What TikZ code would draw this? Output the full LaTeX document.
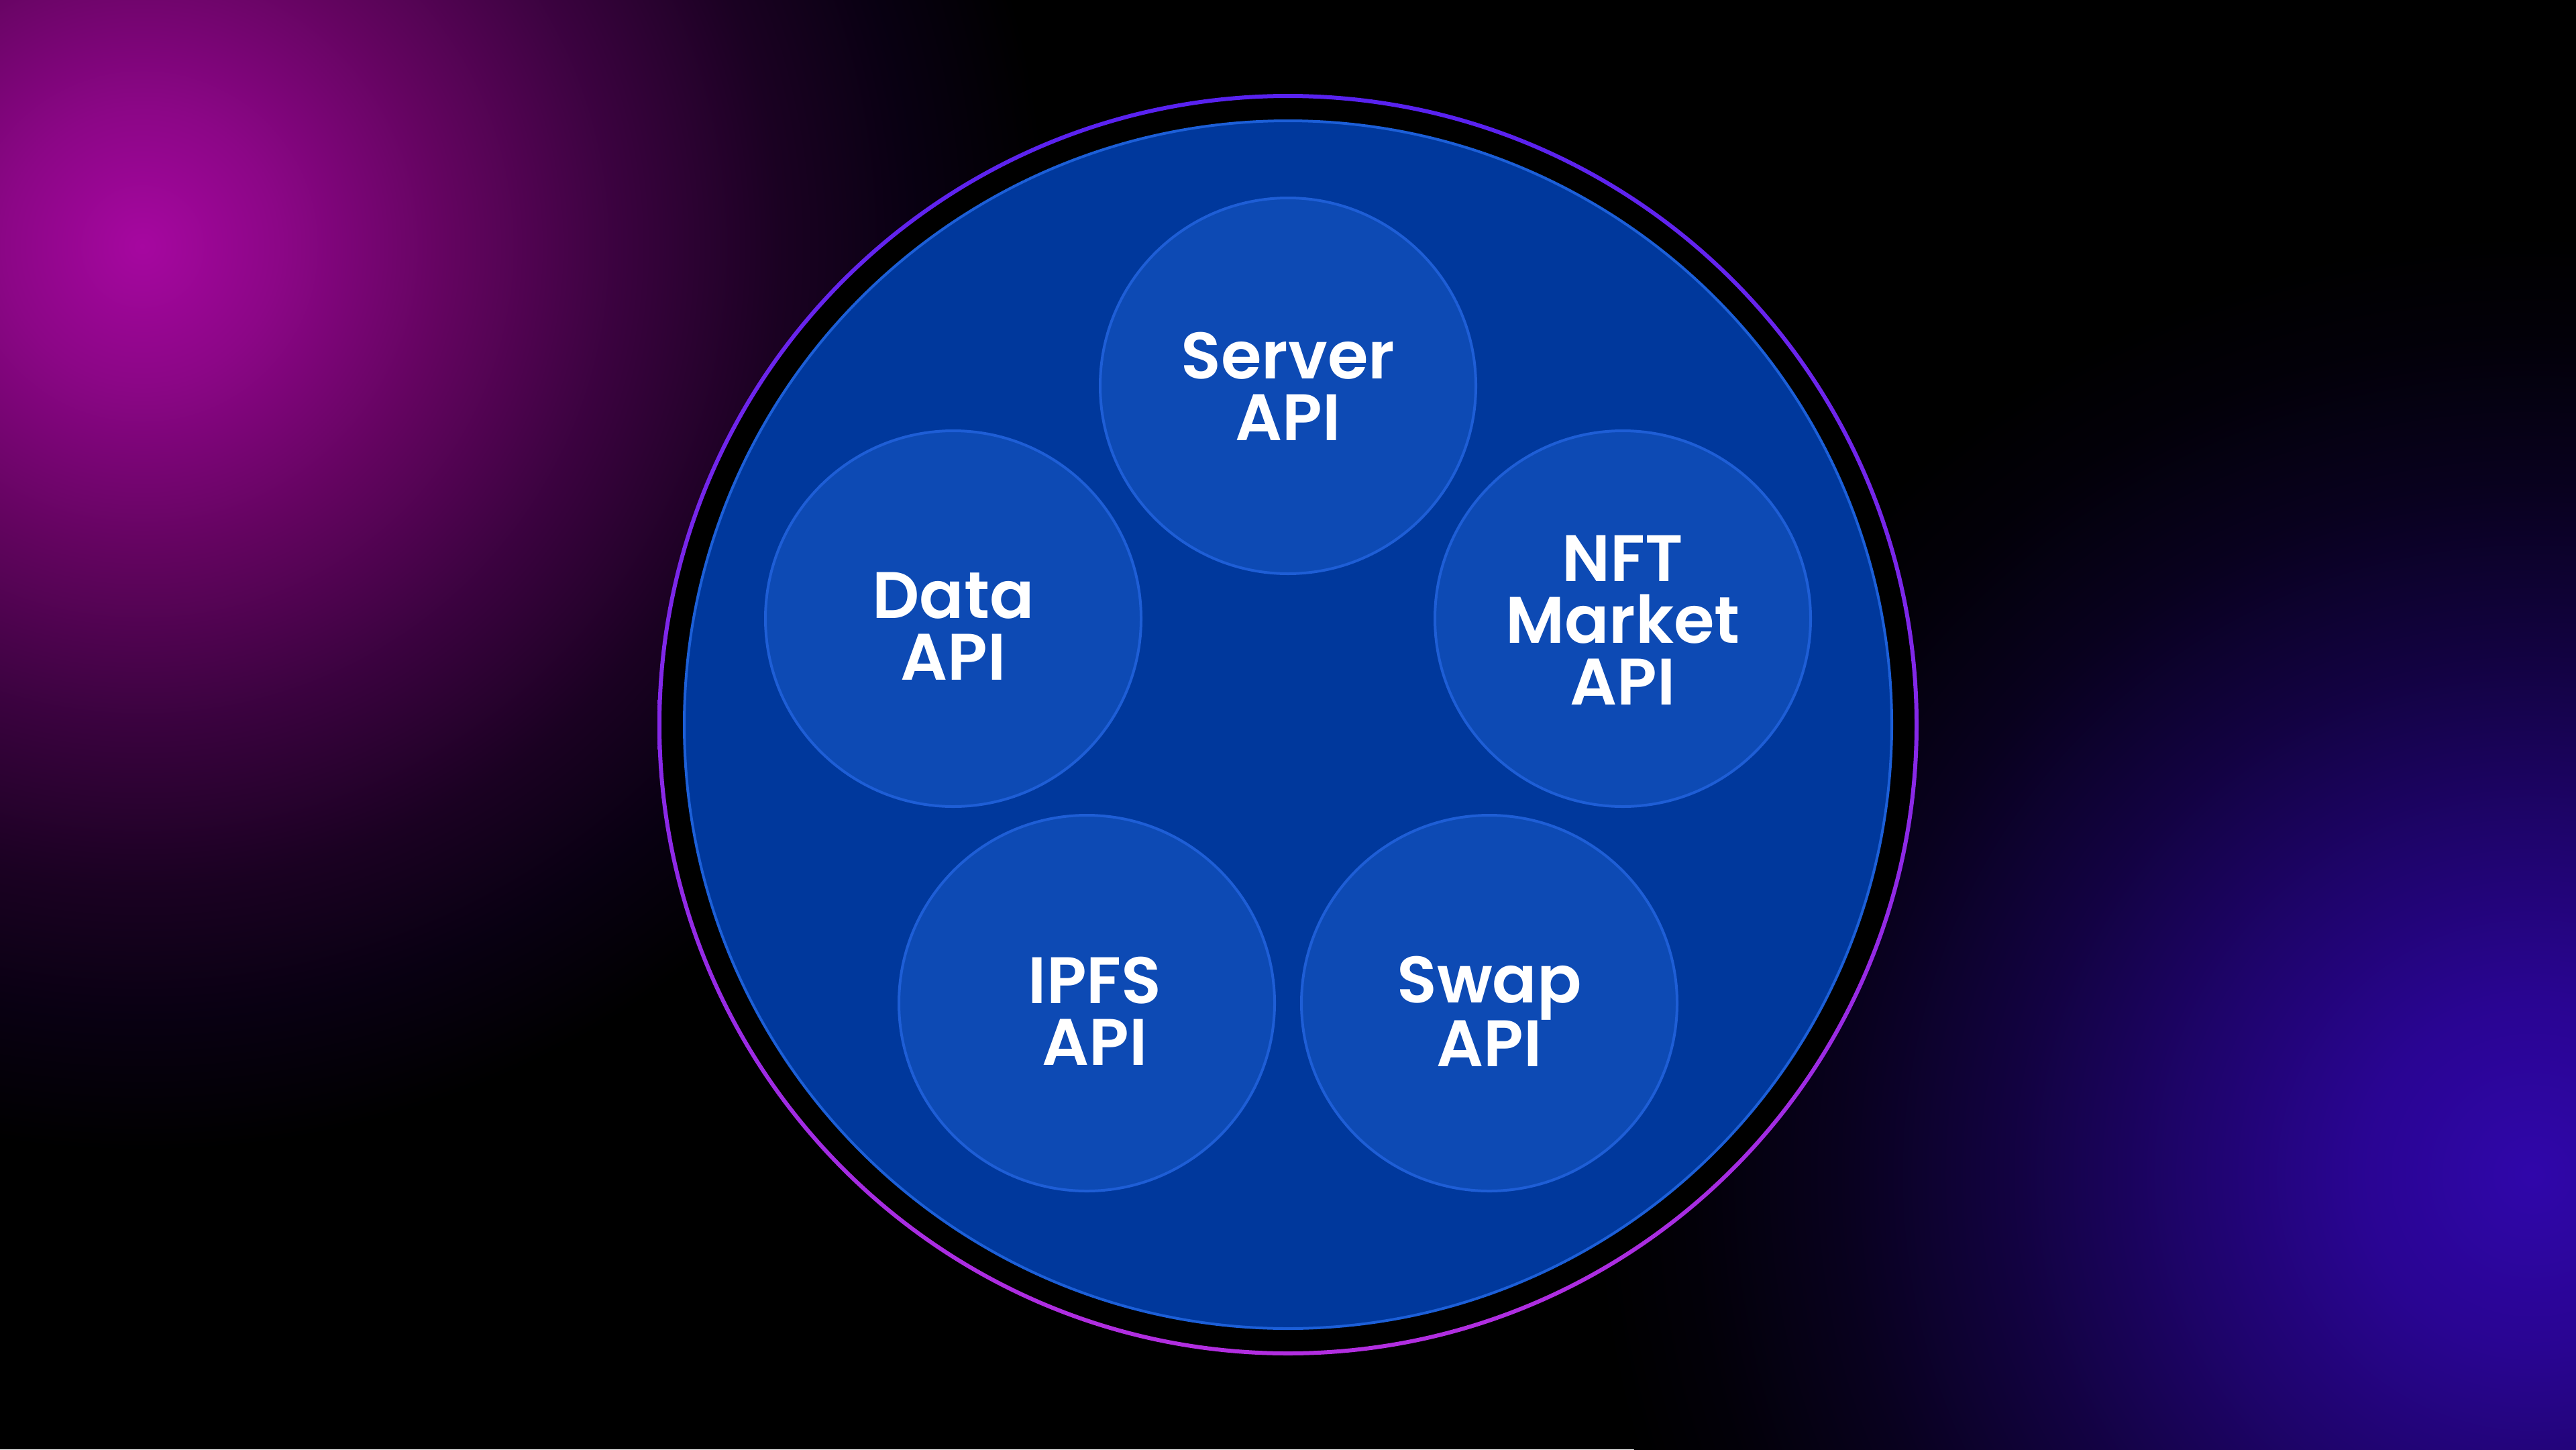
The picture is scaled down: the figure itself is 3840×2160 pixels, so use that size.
\documentclass[tikz,border=0pt]{standalone}
\usepackage{fontspec}
\newfontfamily\popf{Poppins SemiBold}
\definecolor{hubfill}{RGB}{0,56,156}
\definecolor{hubline}{RGB}{28,95,216}
\definecolor{apifill}{RGB}{13,74,180}
\definecolor{apiline}{RGB}{30,94,214}
\definecolor{ringT}{RGB}{88,34,240}
\definecolor{ringB}{RGB}{178,46,224}
\definecolor{glowM}{RGB}{166,7,160}
\definecolor{glowB}{RGB}{48,6,170}
\definecolor{tail}{RGB}{2,0,12}
\pgfdeclareradialshading{magglow}{\pgfpoint{0bp}{0bp}}{color(0bp)=(glowM); color(3.8bp)=(glowM!84!black); color(8.4bp)=(glowM!60!black); color(13bp)=(glowM!35!tail); color(17.6bp)=(glowM!15!tail); color(21.3bp)=(glowM!4!tail); color(25bp)=(black); color(50bp)=(black)}
\pgfdeclareradialshading{blueglow}{\pgfpoint{0bp}{0bp}}{color(0bp)=(glowB); color(4.6bp)=(glowB!86!black); color(9.2bp)=(glowB!63!black); color(13.7bp)=(glowB!39!black); color(18.3bp)=(glowB!18!black); color(22.3bp)=(glowB!5!black); color(25bp)=(black); color(50bp)=(black)}
\tikzset{
  hub/.style={circle, inner sep=0pt, minimum size=1800pt, fill=hubfill, draw=hubline, line width=4pt},
  api/.style={circle, inner sep=0pt, minimum size=560pt, fill=apifill, draw=apiline, line width=4pt},
  lbl/.style={text=white, align=center, inner sep=0pt, font=\popf\fontsize{98}{92}\selectfont},
}
\begin{document}
\begin{tikzpicture}[x=1pt,y=-1pt]
\useasboundingbox (0,0) rectangle (3840,2160);
\fill[black] (0,0) rectangle (3840,2160);
\begin{scope}
\clip (0,0) rectangle (3840,2160);
\shade[shading=magglow] (212,367) circle[radius=1350pt];
\shade[shading=blueglow] (3775,1751) circle[radius=1400pt];
\end{scope}
% black disc behind ring
\fill[black] (1920,1080) circle[radius=937pt];
% gradient ring
\shade[top color=ringT, bottom color=ringB, even odd rule] (1920,1080) circle[radius=940pt] (1920,1080) circle[radius=934pt];
% hub
\node[hub] (hubc) at (1920,1080) {};
% api circles
\node[api] (server) at (1920,575) {};
\node[api] (data) at (1421,922) {};
\node[api] (nft) at (2419,922) {};
\node[api] (ipfs) at (1620,1495) {};
\node[api] (swap) at (2220,1495) {};
% labels
\node[lbl] (serverT) at ([yshift=-1pt]server.center) {Server\\API};
\node[lbl] (dataT) at ([yshift=-11pt]data.center) {Data\\API};
\node[lbl] (nftT) at ([yshift=-2pt]nft.center) {NFT\\Market\\API};
\node[lbl] (ipfsT) at ([xshift=12pt,yshift=-12pt]ipfs.center) {IPFS\\API};
\node[lbl] (swapT) at ([yshift=-12pt]swap.center) {Swap\\API};
\end{tikzpicture}
\end{document}
